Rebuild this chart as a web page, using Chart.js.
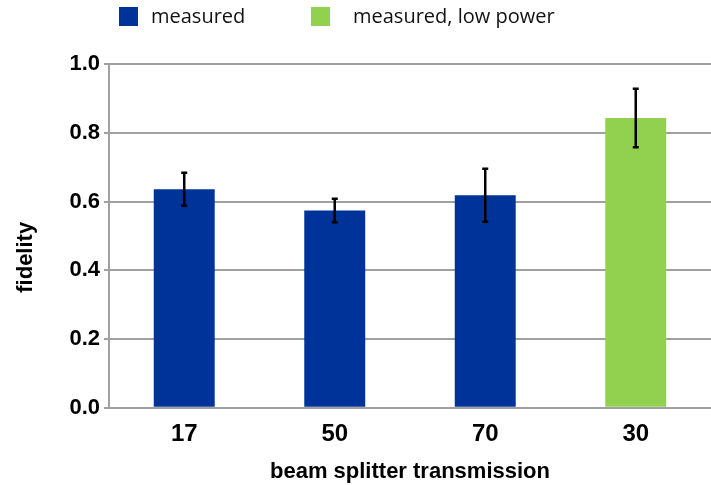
<!DOCTYPE html>
<html>
<head>
<meta charset="utf-8">
<script src="https://cdn.jsdelivr.net/npm/chart.js@4"></script>
<style>
  html, body { margin: 0; padding: 0; background: #fff; }
  #wrap { width: 711px; height: 485px; }
</style>
</head>
<body>
<div id="wrap"><canvas id="grafico"></canvas></div>
<script>
// datos
const categorias = ['17', '50', '70', '30'];
const fidelidad = [0.636, 0.574, 0.618, 0.843];
const errores = [0.048, 0.034, 0.077, 0.085];
const series = ['measured', 'measured, low power'];
const serieDeBarra = [0, 0, 0, 1];
const ticksY = [0, 0.2, 0.4, 0.6, 0.8, 1.0];

const coloresSerie = ['#003399', '#92d050'];
const colores = serieDeBarra.map(s => coloresSerie[s]);

// barras de error
const barrasError = {
    id: 'barrasError',
    afterDatasetsDraw(chart) {
        const ctx = chart.ctx;
        const meta = chart.getDatasetMeta(0);
        const y = chart.scales.y;
        ctx.save();
        ctx.strokeStyle = '#000';
        ctx.lineWidth = 2.5;
        meta.data.forEach((bar, i) => {
            const yTop = y.getPixelForValue(fidelidad[i] + errores[i]);
            const yBot = y.getPixelForValue(fidelidad[i] - errores[i]);
            ctx.beginPath();
            ctx.moveTo(bar.x, yTop);
            ctx.lineTo(bar.x, yBot);
            ctx.moveTo(bar.x - 3, yTop);
            ctx.lineTo(bar.x + 3, yTop);
            ctx.moveTo(bar.x - 3, yBot);
            ctx.lineTo(bar.x + 3, yBot);
            ctx.stroke();
        });
        ctx.restore();
    }
};

// leyenda arriba
const leyenda = {
    id: 'leyenda',
    afterDraw(chart) {
        const ctx = chart.ctx;
        const posiciones = [[119, 151], [311, 353]];
        ctx.save();
        ctx.font = '20px "Open Sans", sans-serif';
        ctx.textBaseline = 'middle';
        series.forEach((nombre, i) => {
            ctx.fillStyle = coloresSerie[i];
            ctx.fillRect(posiciones[i][0], 7, 19, 19);
            ctx.fillStyle = '#111';
            ctx.fillText(nombre, posiciones[i][1], 17);
        });
        ctx.restore();
    }
};

new Chart(document.getElementById('grafico'), {
    type: 'bar',
    data: {
        labels: categorias,
        datasets: [{
            label: series[0],
            data: fidelidad,
            backgroundColor: colores,
            borderWidth: 0,
            barPercentage: 0.405,
            categoryPercentage: 1.0
        }]
    },
    options: {
        responsive: true,
        maintainAspectRatio: false,
        animation: false,
        layout: { padding: { top: 64, right: 0, left: 9, bottom: 0 } },
        plugins: {
            legend: { display: false },
            tooltip: { enabled: false }
        },
        scales: {
            x: {
                grid: { display: false },
                border: { display: true, color: '#a0a0a0', width: 2 },
                ticks: {
                    color: '#000',
                    padding: 4,
                    font: { family: 'Liberation Sans, Arial, sans-serif', size: 24, weight: 'bold' }
                },
                title: {
                    display: true,
                    text: 'beam splitter transmission',
                    color: '#000',
                    padding: { top: 6, bottom: 0 },
                    font: { family: 'Liberation Sans, Arial, sans-serif', size: 22, weight: 'bold' }
                }
            },
            y: {
                min: 0,
                max: 1,
                afterBuildTicks(axis) {
                    axis.ticks = ticksY.map(v => ({ value: v }));
                },
                grid: { color: '#a0a0a0', lineWidth: 2, tickLength: 5 },
                border: { display: true, color: '#a0a0a0', width: 2 },
                ticks: {
                    color: '#000',
                    padding: 4,
                    callback: v => v.toFixed(1),
                    font: { family: 'Liberation Sans, Arial, sans-serif', size: 22, weight: 'bold' }
                },
                title: {
                    display: true,
                    // espacios al final para bajar el titulo como en el original
                    text: 'fidelity       ',
                    color: '#000',
                    padding: { bottom: 26 },
                    font: { family: 'Liberation Sans, Arial, sans-serif', size: 22, weight: 'bold' }
                }
            }
        }
    },
    plugins: [barrasError, leyenda]
});
</script>
</body>
</html>
